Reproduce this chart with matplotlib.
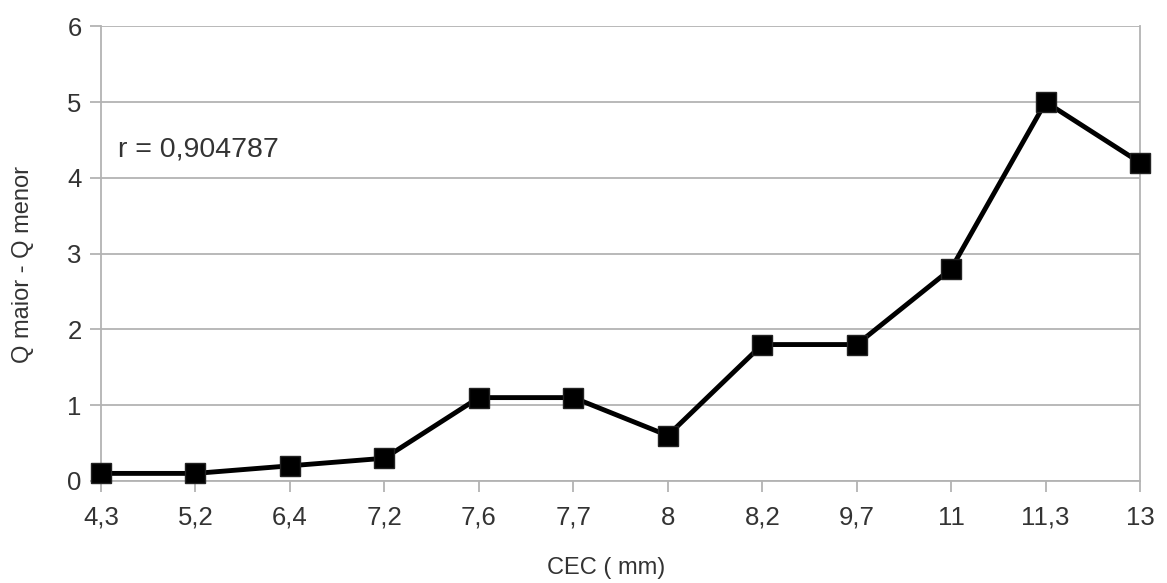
import matplotlib.pyplot as plt

# data
cec_labels = ["4,3", "5,2", "6,4", "7,2", "7,6", "7,7", "8", "8,2", "9,7", "11", "11,3", "13"]
q_diff = [0.1, 0.1, 0.2, 0.3, 1.1, 1.1, 0.6, 1.8, 1.8, 2.8, 5.0, 4.2]
y_ticks = [0, 1, 2, 3, 4, 5, 6]

plt.rcParams['font.family'] = ['Liberation Sans', 'DejaVu Sans']
text_color = '#333333'
grid_color = '#b3b3b3'

fig = plt.figure(figsize=(11.67, 5.83), dpi=100)
ax = fig.add_axes([0.0865, 0.175, 0.8905, 0.780])

x = list(range(len(cec_labels)))
ax.plot(x, q_diff, color='black', linewidth=3.5, marker='s', markersize=15,
        markerfacecolor='black', markeredgecolor='#222222', zorder=3, clip_on=False)

ax.set_xlim(0, len(cec_labels) - 1)
ax.set_ylim(0, 6)
ax.set_xticks(x)
ax.set_xticklabels(cec_labels)
ax.set_yticks(y_ticks)

ax.grid(axis='y', color=grid_color, linewidth=1.3)
ax.set_axisbelow(True)
for side in ['left', 'right', 'bottom']:
    ax.spines[side].set_color(grid_color)
    ax.spines[side].set_linewidth(1.3)
ax.spines['top'].set_visible(False)

ax.tick_params(axis='both', colors=grid_color, length=8, width=1.3, labelsize=18.5,
               labelcolor=text_color)
ax.tick_params(axis='y', pad=6)
ax.tick_params(axis='x', pad=10)

ax.set_xlabel('CEC ( mm)', fontsize=17, color=text_color)
ax.set_ylabel('Q maior - Q menor', fontsize=17, color=text_color)
ax.xaxis.set_label_coords(0.486, -0.191)
ax.yaxis.set_label_coords(-0.075, 0.475)
ax.xaxis.label.set_va('center')
ax.yaxis.label.set_va('center')

ax.text(0.016, 0.730, 'r = 0,904787', transform=ax.transAxes, fontsize=20.5,
        color=text_color, va='center', ha='left')

fig.savefig('out.png', dpi=100)
